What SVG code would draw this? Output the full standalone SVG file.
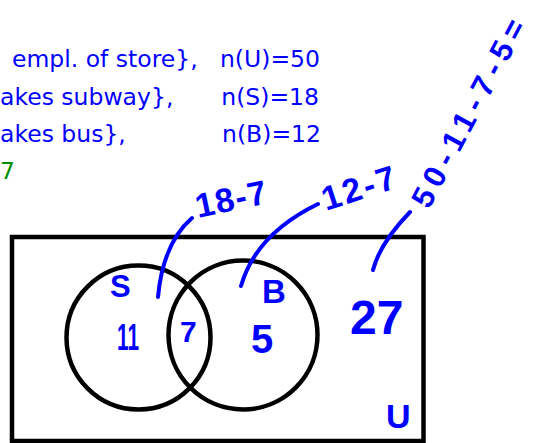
<svg xmlns="http://www.w3.org/2000/svg" width="533" height="443" viewBox="0 0 533 443">
<style>
.typed{font-family:"DejaVu Sans","Liberation Sans",sans-serif;font-size:23.5px;fill:#0000ff}
.hand{font-family:"Liberation Sans","DejaVu Sans",sans-serif;font-weight:bold;fill:#0000ff}
.shape{fill:none;stroke:#000;stroke-width:4.5}
.lead{fill:none;stroke:#0000ff;stroke-width:4;stroke-linecap:round}
</style>
<rect width="533" height="443" fill="#fff"/>
<g id="given">
<text class="typed" x="12" y="67">empl. of store},</text>
<text class="typed" x="320" y="67" text-anchor="end">n(U)=50</text>
<text class="typed" x="0" y="105">akes subway},</text>
<text class="typed" x="319" y="105" text-anchor="end">n(S)=18</text>
<text class="typed" x="0" y="142">akes bus},</text>
<text class="typed" x="321" y="142" text-anchor="end">n(B)=12</text>
<text class="typed" x="0" y="179" style="fill:#009000">7</text>
</g>
<g id="universe">
<rect class="shape" x="12" y="237" width="411.5" height="204"/>
<text class="hand" x="386" y="428" font-size="34">U</text>
<text class="hand" x="350" y="334" font-size="48">27</text>
</g>
<g id="setS">
<circle class="shape" cx="138.5" cy="337.5" r="72"/>
<text class="hand" x="110" y="297" font-size="31">S</text>
<text class="hand" x="117" y="350" font-size="36" textLength="22" lengthAdjust="spacingAndGlyphs">11</text>
</g>
<g id="setB">
<circle class="shape" cx="243" cy="335" r="74.5"/>
<text class="hand" x="262" y="303" font-size="33">B</text>
<text class="hand" x="251" y="353" font-size="40">5</text>
</g>
<g id="intersection">
<text class="hand" x="180" y="342" font-size="30">7</text>
</g>
<g id="connectors">
<path class="lead" d="M192 218 Q163 243 158 297"/>
<path class="lead" d="M318 204 Q256 234 241 286"/>
<path class="lead" d="M410 212 Q380 243 373 270"/>
</g>
<g id="notes">
<text class="hand" font-size="34" transform="translate(198 218) rotate(-12)" textLength="72" lengthAdjust="spacing">18-7</text>
<text class="hand" font-size="34" transform="translate(326 211) rotate(-18)" textLength="76" lengthAdjust="spacing">12-7</text>
<text class="hand" font-size="31" transform="translate(429 210) rotate(-62)" textLength="208" lengthAdjust="spacing">50-11-7-5=</text>
</g>
</svg>
